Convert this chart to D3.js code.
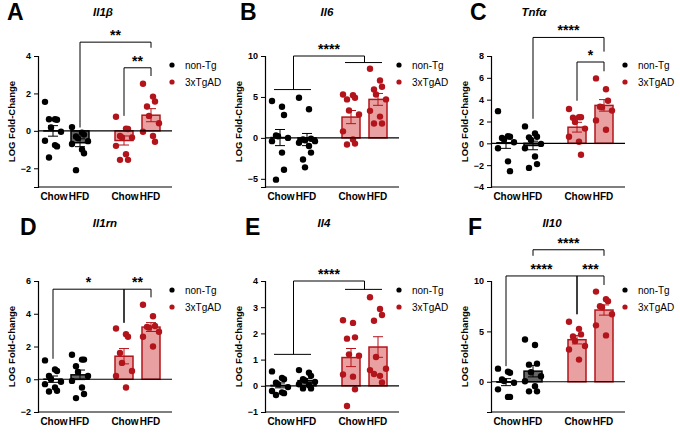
<!DOCTYPE html>
<html>
<head>
<meta charset="utf-8">
<script src="https://cdn.jsdelivr.net/npm/d3@7"></script>
<style>
  body { margin: 0; background: #fff; }
  text { font-family: "Liberation Sans", Arial, sans-serif; }
</style>
</head>
<body>
<svg id="chart" width="680" height="433"></svg>
<script>
const groups = ["nonTg Chow", "nonTg HFD", "3xTgAD Chow", "3xTgAD HFD"];
const xLabels = ["Chow", "HFD", "Chow", "HFD"];
const legendLabels = ["non-Tg", "3xTgAD"];

// individual points per group (log fold-change)
const il1bPoints = [
  [1.55, 0.62, 0.59, 0.62, 0.18, -0.05, -0.53, -0.76, -0.83, -1.42],
  [0.2, -0.1, -0.2, -0.3, -0.4, -0.55, -0.7, -1.0, -1.2, -2.1],
  [0.75, 0.12, 0.1, -0.27, -0.35, -0.35, -0.8, -1.25, -1.55, -1.55],
  [2.52, 1.83, 1.57, 1.3, 0.8, 0.41, -0.05, -0.27, -0.58]
];
const il6Points = [
  [4.5, 3.8, 2.8, 0.3, 0.2, 0, -0.4, -1.8, -3.9, -5.1],
  [4.9, 3.5, -0.1, -0.2, -0.3, -0.4, -0.6, -1.0, -1.8, -2.65, -3.6],
  [5.3, 5.2, 4.9, 4.7, 3.35, 2.85, 0.8, -0.2, -0.7, -0.8],
  [8.45, 7.0, 6.25, 5.9, 5.3, 4.7, 3.3, 2.6, 1.75, 1.75]
];
const tnfaPoints = [
  [2.95, 0.65, 0.6, 0.5, 0.35, 0.1, -0.45, -1.65, -2.55],
  [1.55, 0.9, 0.6, 0.55, 0.3, -0.05, -0.45, -1.2, -1.9, -2.25],
  [3.15, 2.4, 2.4, 2.35, 1.95, 1.35, 0.6, 0.15, -1.05],
  [5.95, 4.95, 3.9, 3.35, 3.3, 3.0, 2.1, 1.25]
];
const il1rnPoints = [
  [1.15, 0.6, 0.5, 0.2, 0, -0.15, -0.3, -0.5, -0.7, -0.75],
  [1.5, 1.2, 1.2, 0.8, 0.45, 0.2, -0.1, -0.5, -0.9, -1.15],
  [3.1, 2.75, 2.6, 1.6, 1.0, 0.5, 0.2, -0.5],
  [4.55, 3.85, 3.25, 3.2, 3.15, 2.9, 2.6, 2.0]
];
const il4Points = [
  [0.55, 0.3, 0.25, 0.12, 0.06, -0.05, -0.2, -0.25, -0.28, -0.35],
  [0.6, 0.5, 0.38, 0.25, 0.2, 0.15, 0.06, 0.02, -0.1, -0.1],
  [2.5, 2.4, 1.85, 1.8, 1.2, 1.15, 0.43, 0.35, -0.13, -0.77],
  [3.38, 2.93, 2.7, 2.48, 1.1, 0.65, 0.6, 0.38, 0.13, 0.45]
];
const il10Points = [
  [1.3, 1.0, 0.9, 0.23, 0.07, -0.1, -0.75, -1.5, -1.5],
  [4.2, 3.65, 1.8, 1.7, 0.95, 0.55, 0.05, -0.45, -0.95, -0.95],
  [5.95, 5.25, 4.7, 4.5, 4.05, 3.55, 3.2, 2.2],
  [8.95, 8.2, 8.0, 7.5, 7.4, 6.7, 5.6, 4.6]
];

// significance brackets: a/b = group index (or span), y = bracket height, ya/yb = leg ends
const il1bSig = [
  { a: 1, b: 3, y: 4.74, ya: 0.18, yb: 4.44, label: "**" },
  { a: 2, b: 3, y: 3.37, ya: 0.8, yb: 2.93, label: "**" }
];
const il6Sig = [{ a: [0, 1], b: [2, 3], y: 10, ya: 5.9, yb: 9.2, label: "****" }];
const tnfaSig = [
  { a: 1, b: 3, y: 9.7, ya: 2.25, yb: 8.4, label: "****" },
  { a: 2, b: 3, y: 7.45, ya: 3.9, yb: 6.6, label: "*" }
];
const il1rnSig = [
  { a: 0, b: 2, y: 5.5, ya: 1.25, yb: 3.45, label: "*" },
  { a: 2, b: 3, y: 5.5, ya: 3.45, yb: 5.0, label: "**" }
];
const il4Sig = [{ a: [0, 1], b: [2, 3], y: 4.0, ya: 1.2, yb: 3.68, label: "****" }];
const il10Sig = [
  { a: 1, b: 3, y: 13.1, ya: 12.5, yb: 12.5, label: "****" },
  { a: 0, b: 2, y: 10.5, ya: 1.55, yb: 6.7, label: "****" },
  { a: 2, b: 3, y: 10.5, ya: 6.7, yb: 9.6, label: "***" }
];

const panels = [
  { letter: "A", title: "Il1β", pts: il1bPoints, sig: il1bSig, domain: [-3, 4], ticks: [-2, 0, 2, 4], col: 0, row: 0, tx: 103, lx: 7 },
  { letter: "B", title: "Il6", pts: il6Points, sig: il6Sig, domain: [-6, 10], ticks: [-5, 0, 5, 10], col: 1, row: 0, tx: 100, lx: 13 },
  { letter: "C", title: "Tnfα", pts: tnfaPoints, sig: tnfaSig, domain: [-4, 8], ticks: [-4, -2, 0, 2, 4, 6, 8], col: 2, row: 0, tx: 81, lx: 17 },
  { letter: "D", title: "Il1rn", pts: il1rnPoints, sig: il1rnSig, domain: [-2, 6], ticks: [-2, 0, 2, 4, 6], col: 0, row: 1, tx: 105, lx: 20 },
  { letter: "E", title: "Il4", pts: il4Points, sig: il4Sig, domain: [-1, 4], ticks: [-1, 0, 1, 2, 3, 4], col: 1, row: 1, tx: 97, lx: 18 },
  { letter: "F", title: "Il10", pts: il10Points, sig: il10Sig, domain: [-3, 10], ticks: [0, 5, 10], col: 2, row: 1, tx: 99, lx: 15 }
];

const RED = "#b3141b";
const svg = d3.select("#chart");

const x = d3.scaleOrdinal().domain(d3.range(4)).range([53, 80, 124, 151]);
const bw = 18;

panels.forEach((p) => {
  const g = svg.append("g")
    .attr("transform", `translate(${p.col * 227 + (p.col === 2 ? -1 : 0)},${p.row * 225})`);
  // top tick sits at 56, bottom of domain at 187
  const y = d3.scaleLinear().domain(p.domain)
    .range([187, 187 - (187 - 56) * (p.domain[1] - p.domain[0]) / (d3.max(p.ticks) - p.domain[0])]);

  g.append("text").attr("x", p.lx).attr("y", p.row ? 10 : 20)
    .attr("font-size", 23).attr("font-weight", "bold").text(p.letter);
  g.append("text").attr("x", p.tx).attr("y", p.row ? 2 : 16).attr("text-anchor", "middle")
    .attr("font-size", 11.5).attr("font-weight", "bold").attr("font-style", "italic").text(p.title);

  // y axis
  const ax = g.append("g").attr("transform", "translate(38,0)")
    .call(d3.axisLeft(y).tickValues(p.ticks).tickSize(4).tickFormat(d3.format("d")));
  ax.select(".domain").attr("stroke-width", 1.2);
  ax.selectAll("text").attr("font-size", 9).attr("font-weight", "bold").attr("font-family", "Liberation Sans, Arial");
  g.append("line").attr("x1", 38).attr("x2", 172).attr("y1", 187).attr("y2", 187).attr("stroke", "#000").attr("stroke-width", 1.2);
  g.append("text").attr("transform", `translate(15,${(187 + 56) / 2}) rotate(-90)`)
    .attr("text-anchor", "middle").attr("font-size", 9.5).attr("font-weight", "bold").text("LOG Fold-Change");

  // bars
  p.pts.forEach((vals, i) => {
    const red = i >= 2;
    const m = d3.mean(vals);
    const se = d3.deviation(vals) / Math.sqrt(vals.length);
    const cx = x(i);
    g.append("rect").attr("x", cx - bw / 2).attr("width", bw)
      .attr("y", Math.min(y(m), y(0))).attr("height", Math.abs(y(m) - y(0)))
      .attr("fill", red ? "#e9a0a0" : "#666").attr("stroke", red ? RED : "#000").attr("stroke-width", 1.5);
    vals.forEach((v, k) => {
      const off = ((k % 3) - 1) * 6 + (k % 2 ? 2 : -2);
      g.append("circle").attr("cx", cx + off).attr("cy", y(v)).attr("r", 3.2)
        .attr("fill", red ? RED : "#000");
    });
    const ec = red ? RED : "#000";
    g.append("line").attr("x1", cx).attr("x2", cx).attr("y1", y(m - se)).attr("y2", y(m + se)).attr("stroke", ec).attr("stroke-width", 1);
    [m - se, m + se].forEach((v) => g.append("line").attr("x1", cx - 5).attr("x2", cx + 5).attr("y1", y(v)).attr("y2", y(v)).attr("stroke", ec).attr("stroke-width", 1));
  });

  // zero line
  g.append("line").attr("x1", 38).attr("x2", 172).attr("y1", y(0)).attr("y2", y(0)).attr("stroke", "#000").attr("stroke-width", 1.2);

  // x labels
  xLabels.forEach((t, i) => {
    g.append("text").attr("x", x(i) + (i % 2 ? -1 : 1)).attr("y", 200).attr("text-anchor", "middle")
      .attr("font-size", 10).attr("font-weight", "bold").text(t);
  });

  // significance brackets
  p.sig.forEach((s) => {
    const legX = (v) => Array.isArray(v) ? (x(v[0]) + x(v[1])) / 2 : x(v);
    const xa = legX(s.a), xb = legX(s.b);
    const path = d3.path();
    path.moveTo(xa, y(s.ya)); path.lineTo(xa, y(s.y)); path.lineTo(xb, y(s.y)); path.lineTo(xb, y(s.yb));
    g.append("path").attr("d", path.toString()).attr("fill", "none").attr("stroke", "#000").attr("stroke-width", 1);
    [[s.a, s.ya], [s.b, s.yb]].forEach(([v, yy]) => {
      if (Array.isArray(v)) {
        g.append("line").attr("x1", x(v[0]) - 6).attr("x2", x(v[1]) + 4).attr("y1", y(yy)).attr("y2", y(yy)).attr("stroke", "#000").attr("stroke-width", 1);
      }
    });
    g.append("text").attr("x", (xa + xb) / 2).attr("y", y(s.y) - 2).attr("text-anchor", "middle")
      .attr("font-size", 14).attr("font-weight", "bold").text(s.label);
  });

  // legend
  legendLabels.forEach((t, i) => {
    g.append("circle").attr("cx", 172).attr("cy", 65 + i * 17).attr("r", 2.6).attr("fill", i ? RED : "#000");
    g.append("text").attr("x", 185).attr("y", 68.5 + i * 17).attr("font-size", 10).text(t);
  });
});
</script>
</body>
</html>
